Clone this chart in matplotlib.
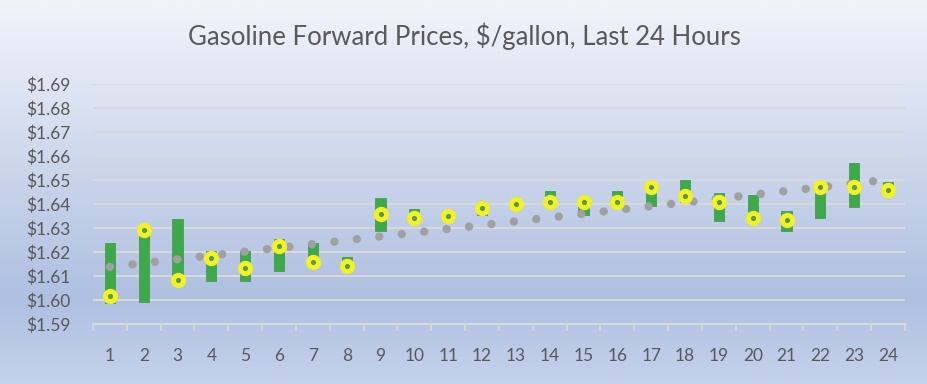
import numpy as np
import matplotlib.pyplot as plt
from matplotlib.colors import LinearSegmentedColormap

hours = list(range(1, 25))
low = [1.5989, 1.5990, 1.6076, 1.6081, 1.6081, 1.6122, 1.6145, 1.6130, 1.6289, 1.6320,
       1.6340, 1.6355, 1.6390, 1.6390, 1.6355, 1.6390, 1.6393, 1.6410, 1.6331, 1.6340,
       1.6289, 1.6341, 1.6389, 1.6450]
high = [1.6239, 1.6300, 1.6337, 1.6204, 1.6204, 1.6254, 1.6237, 1.6178, 1.6424, 1.6380,
        1.6360, 1.6400, 1.6410, 1.6456, 1.6420, 1.6456, 1.6480, 1.6498, 1.6445, 1.6438,
        1.6371, 1.6469, 1.6570, 1.6491]
close = [1.6017, 1.6292, 1.6083, 1.6174, 1.6132, 1.6225, 1.6160, 1.6142, 1.6359, 1.6343,
         1.6352, 1.6385, 1.6400, 1.6409, 1.6410, 1.6408, 1.6469, 1.6434, 1.6410, 1.6343,
         1.6334, 1.6469, 1.6469, 1.6459]
yticks = [1.59, 1.60, 1.61, 1.62, 1.63, 1.64, 1.65, 1.66, 1.67, 1.68, 1.69]

plt.rcParams['font.family'] = ['Lato', 'DejaVu Sans']

fig = plt.figure(figsize=(9.28, 3.84), dpi=100)

# background gradient over the whole figure
bg = fig.add_axes([0, 0, 1, 1], zorder=0)
cmap = LinearSegmentedColormap.from_list(
    'bg', [(0.0, '#f2f4fa'), (0.78, '#aebfe0'), (1.0, '#c6d2ec')])
bg.imshow(np.linspace(0, 1, 256).reshape(-1, 1), aspect='auto', cmap=cmap,
          extent=[0, 1, 0, 1], origin='upper')
bg.axis('off')

ax = fig.add_axes([0.1002, 0.15625, 0.875, 0.625], zorder=1)
ax.patch.set_alpha(0)

x = np.array(hours)
ax.bar(x, np.array(high) - np.array(low), bottom=low, width=0.3,
       color='#3daa4a', edgecolor='#4b9a55', linewidth=0.6, zorder=3)

# linear trendline of the closing prices
coef = np.polyfit(x, close, 1)
trend = np.polyval(coef, x)
ax.plot(x, trend, linestyle=(0, (0.01, 2.7)), color='#a0a0a0', linewidth=6,
        dash_capstyle='round', zorder=4)

ax.scatter(x, close, s=105, color='#f7f21a', edgecolor='#e8ec40', linewidth=0.8, zorder=5)
ax.scatter(x, close, s=7, color='#4a9a6a', zorder=6)

ax.set_xlim(0.5, 24.5)
ax.set_ylim(1.59, 1.69)
ax.set_yticks(yticks)
ax.set_yticklabels([f'${v:.2f}' for v in yticks])
ax.set_xticks(hours)
ax.set_xticks(np.arange(0.5, 25, 1), minor=True)
ax.grid(axis='y', color='#d9d9d9', linewidth=1.5, zorder=1)
ax.set_axisbelow(True)
for s in ['top', 'right', 'left']:
    ax.spines[s].set_visible(False)
ax.spines['bottom'].set_color('#d9d9d9')
ax.spines['bottom'].set_linewidth(1.5)
ax.tick_params(axis='y', length=0, labelsize=12.5, labelcolor='#595959', pad=16)
ax.tick_params(axis='x', which='major', length=0, labelsize=12.5, labelcolor='#595959', pad=17)
ax.tick_params(axis='x', which='minor', length=5, color='#d9d9d9', width=1.2)

fig.text(0.5, 0.905, 'Gasoline Forward Prices, $/gallon, Last 24 Hours',
         ha='center', va='center', fontsize=18.5, color='#595959')

fig.savefig('out.png', dpi=100)
